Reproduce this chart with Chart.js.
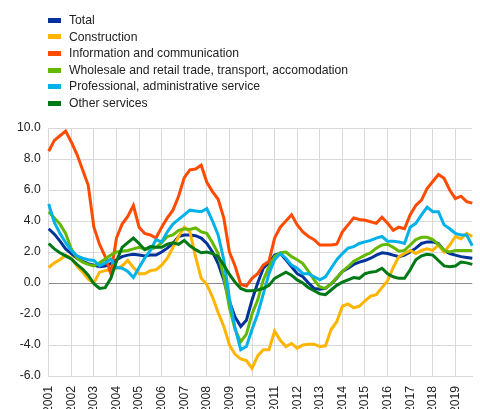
<!DOCTYPE html>
<html>
<head>
<meta charset="utf-8">
<script src="https://cdn.jsdelivr.net/npm/chart.js@4/dist/chart.umd.min.js"></script>
<style>
  html, body { margin: 0; padding: 0; background: #fff; }
  #wrap { position: relative; width: 480px; height: 409px; overflow: hidden; }
  #c { position: absolute; left: 0; top: 0; }
  #legend { position: absolute; left: 48px; top: 12px; font-family: Arial, "Liberation Sans", sans-serif; font-size: 12.2px; color: #222; }
  #legend .row { height: 16.6px; line-height: 16.6px; white-space: nowrap; display: flex; align-items: center; }
  #legend .box { display: inline-block; width: 13px; height: 5px; margin-right: 8px; }
</style>
</head>
<body>
<div id="wrap">
  <canvas id="c" width="480" height="409"></canvas>
  <div id="legend"></div>
</div>
<script>
// ---- data (quarterly, 2001Q1 - 2019Q4) ----
const years = [2001,2002,2003,2004,2005,2006,2007,2008,2009,2010,2011,2012,2013,2014,2015,2016,2017,2018,2019];
const quarters = [];
years.forEach(y => { for (let q = 1; q <= 4; q++) quarters.push(y + 'Q' + q); });

const seriesNames = [
  'Total',
  'Construction',
  'Information and communication',
  'Wholesale and retail trade, transport, accomodation',
  'Professional, administrative service',
  'Other services'
];

const total = [3.5,3.15,2.7,2.2,1.9,1.6,1.4,1.25,1.15,1.05,1.1,1.25,1.5,1.7,1.8,1.85,1.8,1.75,1.8,1.8,
  2.0,2.25,2.55,3.0,3.1,3.1,3.05,2.9,2.55,2.0,1.25,0.2,-1.2,-2.2,-2.8,-2.4,-1.1,
  0.0,0.95,1.3,1.8,1.9,1.5,1.05,0.6,0.4,0.0,-0.35,-0.4,-0.35,-0.05,0.3,0.75,0.95,1.2,1.35,
  1.45,1.6,1.8,1.95,1.9,1.8,1.7,1.8,2.0,2.25,2.55,2.65,2.65,2.55,2.1,1.9,1.8,1.7,1.65,1.6];

const construction = [1.0,1.3,1.5,1.8,1.6,1.1,0.7,0.25,0.0,0.7,0.8,0.85,0.95,1.1,1.45,1.0,0.6,0.6,0.8,0.85,
  1.15,1.6,2.3,3.0,3.6,3.3,1.7,0.3,-0.1,-0.9,-1.9,-2.8,-4.0,-4.6,-4.9,-5.0,-5.5,
  -4.7,-4.3,-4.3,-3.1,-3.7,-4.1,-3.9,-4.2,-4.0,-3.95,-3.95,-4.1,-4.05,-3.0,-2.5,-1.5,-1.35,-1.6,-1.5,
  -1.15,-0.85,-0.75,-0.3,0.15,1.0,1.7,1.9,2.1,1.9,2.1,2.2,2.1,2.45,2.0,2.45,3.0,2.85,3.2,3.0];

const infoComm = [8.5,9.2,9.5,9.8,9.1,8.3,7.3,6.3,3.6,2.5,1.7,0.6,2.9,3.8,4.3,5.0,3.6,3.2,3.1,2.9,
  3.6,4.2,4.7,5.6,6.8,7.3,7.35,7.6,6.5,5.9,5.4,4.2,2.0,1.1,-0.1,-0.2,0.3,
  0.6,1.15,1.4,2.9,3.6,4.0,4.4,3.75,3.3,3.0,2.8,2.45,2.45,2.45,2.5,3.3,3.75,4.2,4.1,
  4.05,3.95,3.85,4.25,3.85,3.4,3.6,3.5,4.4,5.0,5.35,6.1,6.55,7.0,6.75,6.0,5.45,5.6,5.25,5.15];

const wholesale = [4.6,4.2,3.8,3.2,2.2,1.6,1.35,1.2,1.1,1.3,1.55,1.8,2.0,2.05,2.1,2.2,2.3,2.2,2.2,2.3,
  2.6,3.0,3.1,3.4,3.5,3.45,3.55,3.3,3.2,2.6,1.9,0.4,-1.6,-3.0,-3.8,-3.3,-2.0,
  -1.1,0.2,1.05,1.7,1.95,2.0,1.7,1.5,1.25,0.75,0.2,-0.25,-0.35,-0.05,0.35,0.75,1.05,1.4,1.6,
  1.8,1.95,2.25,2.45,2.5,2.3,2.05,2.1,2.45,2.8,2.95,2.95,2.8,2.5,2.1,2.0,2.1,2.1,2.1,2.1];

const professional = [5.1,3.9,3.2,2.6,2.1,1.75,1.6,1.5,1.45,1.1,1.3,1.55,1.0,0.95,0.75,0.35,1.0,1.6,2.1,2.8,
  2.65,3.3,3.8,4.1,4.4,4.7,4.65,4.6,4.8,4.0,3.1,1.5,-1.0,-2.9,-4.3,-4.1,-3.0,
  -2.0,-0.7,0.6,1.5,1.9,1.6,1.15,0.95,0.6,0.6,0.4,0.2,0.4,0.95,1.5,1.9,2.25,2.35,2.55,
  2.65,2.75,2.9,3.0,2.7,2.7,2.65,2.55,3.6,3.85,4.4,4.9,4.6,4.6,3.75,3.5,3.2,3.1,3.1,2.4];

const otherServices = [2.55,2.2,1.95,1.75,1.55,1.2,0.9,0.5,-0.05,-0.35,-0.3,0.3,1.4,2.3,2.6,2.9,2.55,2.15,2.35,2.3,
  2.3,2.5,2.6,2.5,2.75,2.4,2.15,1.95,2.0,1.9,1.7,1.15,0.55,0.05,-0.35,-0.5,-0.5,
  -0.45,-0.35,-0.15,0.3,0.5,0.7,0.5,0.2,0.0,-0.3,-0.5,-0.7,-0.75,-0.45,-0.15,0.05,0.2,0.35,0.3,
  0.6,0.7,0.75,0.95,0.6,0.4,0.3,0.3,0.85,1.5,1.75,1.85,1.8,1.45,1.1,1.05,1.1,1.35,1.3,1.2];

const colors = ['#003299','#ffb400','#ff4b00','#65b800','#00b1ea','#007816'];
const yTicks = [-6,-4,-2,0,2,4,6,8,10];

// ---- legend (HTML) ----
const legendEl = document.getElementById('legend');
seriesNames.forEach((n, i) => {
  const row = document.createElement('div');
  row.className = 'row';
  const b = document.createElement('span');
  b.className = 'box';
  b.style.background = colors[i];
  const t = document.createElement('span');
  t.textContent = n;
  row.appendChild(b); row.appendChild(t);
  legendEl.appendChild(row);
});

// ---- chart ----
const allSeries = [total, construction, infoComm, wholesale, professional, otherServices];
const datasets = allSeries.map((d, i) => ({
  label: seriesNames[i],
  data: d,
  borderColor: colors[i],
  backgroundColor: colors[i],
  borderWidth: 3,
  pointRadius: 0,
  tension: 0,
  fill: false,
  order: allSeries.length - i
}));

const FONT = { family: 'Arial, "Liberation Sans", sans-serif', size: 12.2 };

new Chart(document.getElementById('c'), {
  type: 'line',
  data: { labels: quarters, datasets },
  options: {
    responsive: false,
    animation: false,
    devicePixelRatio: 1,
    layout: { padding: { top: 128, left: 0, right: 0, bottom: 0 } },
    plugins: { legend: { display: false }, tooltip: { enabled: false } },
    scales: {
      x: {
        type: 'category',
        offset: false,
        afterFit: s => { s.height = 33; },
        border: { display: true, color: '#d9d9d9' },
        grid: { color: '#d9d9d9', lineWidth: 1, drawTicks: false, offset: false },
        ticks: {
          autoSkip: false,
          maxRotation: 90,
          minRotation: 90,
          padding: 10,
          color: '#222',
          font: FONT,
          callback: (v, idx) => quarters[idx].endsWith('Q1') ? quarters[idx].slice(0, 4) : null
        }
      },
      y: {
        min: -6,
        max: 10,
        afterFit: s => { s.width = 48.7; },
        afterBuildTicks: s => { s.ticks = yTicks.map(v => ({ value: v })); },
        border: { display: true, color: '#d9d9d9' },
        grid: {
          drawTicks: false,
          lineWidth: 1,
          color: c => (c.tick && c.tick.value === 0) ? '#8a8a8a' : '#d9d9d9'
        },
        ticks: {
          padding: 8,
          color: '#222',
          font: FONT,
          callback: v => Number(v).toFixed(1)
        }
      }
    }
  }
});
</script>
</body>
</html>
